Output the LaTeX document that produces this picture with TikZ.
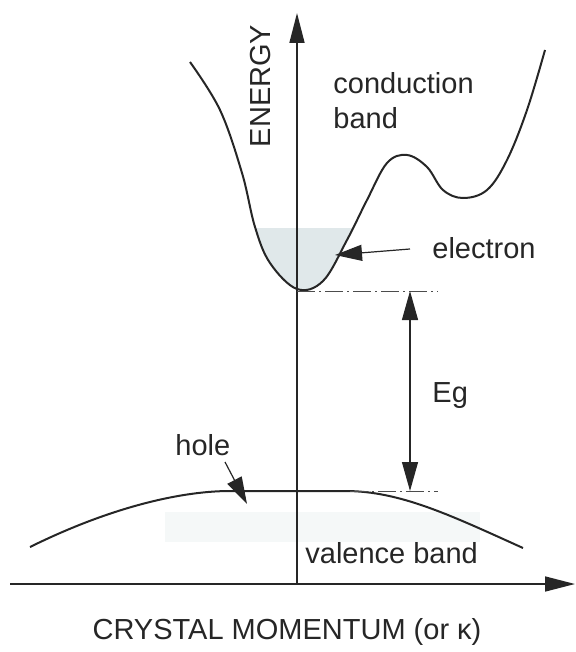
\documentclass[tikz,border=0pt]{standalone}
\usepackage{fontspec}
\setmainfont{Liberation Sans}
\usetikzlibrary{arrows.meta,positioning,calc}
\definecolor{fillgray}{RGB}{224,232,234}
\definecolor{fadegray}{RGB}{245,248,248}

\begin{document}
\begin{tikzpicture}[
  x=0.5pt, y=-0.5pt,
  font=\fontsize{14.5}{17.4}\selectfont,
  lbl/.style={inner sep=0pt, text=black!85},
  band/.style={line width=1pt, draw=black!85},
  axis/.style={line width=0.8pt, draw=black!85, -{Triangle[length=15pt,width=7.5pt]}},
  ptr/.style={line width=0.6pt, draw=black!85, -{Triangle[length=13.5pt,width=8pt]}},
  gap/.style={line width=0.6pt, draw=black!85, {Triangle[length=14.5pt,width=8pt]}-{Triangle[length=14.5pt,width=8pt]}},
  level/.style={line width=0.5pt, draw=black!70, dash pattern=on 9pt off 2pt on 1pt off 2pt}
]
\useasboundingbox (0,0) rectangle (575,652);

% filled electron states and faint hole band
\begin{scope}
  \clip (0,228) rectangle (575,320);
  \fill[fillgray] plot[smooth, tension=0.6] coordinates {(190,62) (220,110) (242,173) (255,227) (270,263) (297,289) (323,281) (347,240) (367,200) (387,163) (407,155) (427,167) (443,190) (463,198) (487,190) (507,160) (527,110) (545,50)} -- cycle;
\end{scope}
\fill[fadegray] (165,512) rectangle (480,542);

% bands
\draw[band] plot[smooth, tension=0.6] coordinates {(190,62) (220,110) (242,173) (255,227) (270,263) (297,289) (323,281) (347,240) (367,200) (387,163) (407,155) (427,167) (443,190) (463,198) (487,190) (507,160) (527,110) (545,50)};
\draw[band] (30,547) .. controls (115,505) and (185,491) .. (230,491)
  -- (345,491) .. controls (400,491) and (450,515) .. (523,548);

% axes
\coordinate (origin) at (297,584);
\coordinate (ytip) at (297,13);
\coordinate (xstart) at (10,584);
\coordinate (xtip) at (575,584);
\draw[axis] (origin) -- (ytip);
\draw[axis] (xstart) -- (xtip);

% band edges and gap
\coordinate (cbmin) at (297,291);
\coordinate (vbmax) at (350,491);
\coordinate (gaptop) at (410,291);
\coordinate (gapbot) at (410,491);
\coordinate (cbend) at (438,291);
\coordinate (vbend) at (438,491);
\draw[level] (cbmin) -- (cbend);
\draw[level] (vbmax) -- (vbend);
\draw[gap] (gaptop) -- (gapbot);

% labels
\node[lbl, rotate=90] (energy) at (261,86) {ENERGY};
\node[lbl, anchor=north west, align=left] (cband) at (333,72) {conduction\\band};
\node[lbl, anchor=base west] (electron) at (432,258) {electron};
\node[lbl, anchor=base west] (eg) at (432,402) {Eg};
\node[lbl, anchor=base west] (hole) at (175,455) {hole};
\node[lbl, anchor=base west] (vband) at (305,563) {valence band};
\node[lbl] (kaxis) at (287,632) {CRYSTAL MOMENTUM (or κ)};

% pointers
\coordinate (etail) at (410,249);
\coordinate (etip) at (335,255);
\coordinate (htail) at (225,462);
\coordinate (htip) at (247,504);
\draw[ptr] (etail) -- (etip);
\draw[ptr] (htail) -- (htip);
\end{tikzpicture}
\end{document}
